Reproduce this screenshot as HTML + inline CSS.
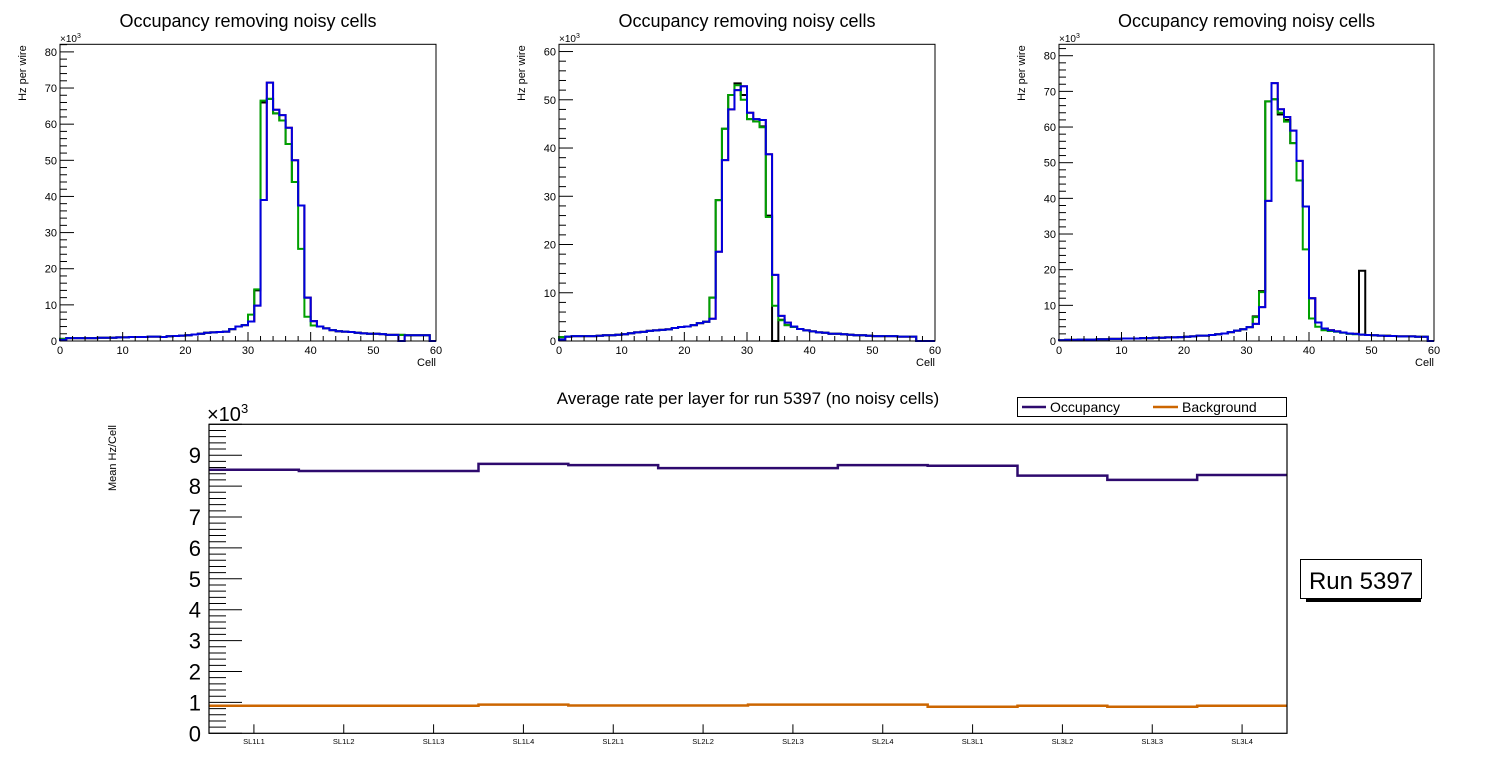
<!DOCTYPE html>
<html><head><meta charset="utf-8"><style>
html,body{margin:0;padding:0;background:#fff;}
svg{display:block;font-family:"Liberation Sans",sans-serif;}
</style></head><body>
<svg id="c" width="1496" height="772" viewBox="0 0 1496 772"></svg>
<script>
// ---- data: small histograms (Hz per wire, x10^3), 60 cells each ----
const p1Blue=[0.3,0.8,0.8,0.8,0.8,0.8,0.9,0.9,0.9,1.0,1.0,1.1,1.1,1.1,1.2,1.2,1.1,1.3,1.4,1.5,1.6,1.8,2.0,2.3,2.4,2.5,2.6,3.3,4.0,4.4,5.4,9.8,39,71.5,64,62.5,59,50,37.5,12,5.5,4.0,3.5,3.0,2.7,2.6,2.5,2.3,2.1,2.0,2.0,1.9,1.7,1.7,0,1.6,1.6,1.6,1.6,0];
const p1Green=[0.6,0.8,0.8,0.8,0.8,0.8,0.9,0.9,0.9,1.0,1.0,1.1,1.1,1.1,1.2,1.2,1.1,1.3,1.4,1.5,1.6,1.8,2.0,2.3,2.4,2.5,2.6,3.3,4.0,4.4,7.3,14.3,66.5,67,63,61,54.5,44,25.5,6.7,4.3,4.0,3.5,3.0,2.7,2.6,2.5,2.3,2.1,2.0,2.0,1.9,1.7,1.7,1.7,1.6,1.6,1.6,1.6,0];
const p1Black=[0.6,0.8,0.8,0.8,0.8,0.8,0.9,0.9,0.9,1.0,1.0,1.1,1.1,1.1,1.2,1.2,1.1,1.3,1.4,1.5,1.6,1.8,2.0,2.3,2.4,2.5,2.6,3.3,4.0,4.4,5.4,14,66,67,63,61,54.5,44,37.5,12,5.5,4.0,3.5,3.0,2.7,2.6,2.5,2.3,2.1,2.0,2.0,1.9,1.7,1.7,1.7,1.6,1.6,1.6,1.6,0];
const p2Blue=[0.3,0.9,1.0,1.0,1.0,1.0,1.1,1.2,1.2,1.3,1.4,1.6,1.8,1.9,2.1,2.2,2.3,2.4,2.7,2.9,3.0,3.3,3.7,4.0,4.6,18.5,37.5,48,52,52.8,47.3,46,45.8,38.7,13.7,5.2,3.8,3.0,2.5,2.2,2.0,1.8,1.7,1.5,1.5,1.4,1.3,1.2,1.2,1.1,1.0,1.0,1.0,1.0,0.9,0.9,0.9,0,0,0];
const p2Green=[0.8,0.9,1.0,1.0,1.0,1.0,1.1,1.2,1.2,1.3,1.4,1.6,1.8,1.9,2.1,2.2,2.3,2.4,2.7,2.9,3.0,3.3,3.7,4.0,9.0,29.2,44,51,53,50,46,45.5,44.3,25.7,7.3,4.3,3.3,2.9,2.5,2.2,2.0,1.8,1.7,1.5,1.5,1.4,1.3,1.2,1.2,1.1,1.0,1.0,1.0,1.0,0.9,0.9,0.9,0,0,0];
const p2Black=[0.8,0.9,1.0,1.0,1.0,1.0,1.1,1.2,1.2,1.3,1.4,1.6,1.8,1.9,2.1,2.2,2.3,2.4,2.7,2.9,3.0,3.3,3.7,4.0,9.0,29.2,44,51,53.4,51,46,45.5,44.5,26,0,4.4,3.3,2.9,2.5,2.2,2.0,1.8,1.7,1.5,1.5,1.4,1.3,1.2,1.2,1.1,1.0,1.0,1.0,1.0,0.9,0.9,0.9,0,0,0];
const p3Blue=[0.2,0.3,0.3,0.4,0.4,0.4,0.5,0.5,0.6,0.6,0.7,0.7,0.7,0.8,0.8,0.9,0.9,1.0,1.0,1.1,1.2,1.3,1.5,1.5,1.7,1.9,2.1,2.5,2.9,3.3,3.9,4.8,9.5,39.3,72.3,65,62.8,59,50.5,37.7,12,5.2,3.5,3.0,2.7,2.4,2.1,2.0,1.8,1.7,1.6,1.5,1.4,1.4,1.3,1.3,1.3,1.2,1.2,0];
const p3Green=[0.2,0.3,0.3,0.4,0.4,0.4,0.5,0.5,0.6,0.6,0.7,0.7,0.7,0.8,0.8,0.9,0.9,1.0,1.0,1.1,1.2,1.3,1.5,1.5,1.7,1.9,2.1,2.5,2.9,3.3,3.9,6.7,13.7,67.2,67.8,64,61.5,55.5,45,25.7,6.3,4.0,3.0,2.8,2.6,2.3,2.0,1.9,1.8,1.7,1.6,1.5,1.4,1.4,1.3,1.3,1.3,1.2,1.2,0];
const p3Black=[0.2,0.3,0.3,0.4,0.4,0.4,0.5,0.5,0.6,0.6,0.7,0.7,0.7,0.8,0.8,0.9,0.9,1.0,1.0,1.1,1.2,1.3,1.5,1.5,1.7,1.9,2.1,2.5,2.9,3.3,3.9,6.9,14,67.2,67.8,63.5,62,55.5,45,37.7,12,5.2,3.5,3.0,2.7,2.4,2.1,2.0,19.7,1.7,1.6,1.5,1.5,1.4,1.3,1.3,1.3,1.2,1.2,0];
// ---- data: bottom chart (Mean Hz/Cell, x10^3) ----
const layers=["SL1L1","SL1L2","SL1L3","SL1L4","SL2L1","SL2L2","SL2L3","SL2L4","SL3L1","SL3L2","SL3L3","SL3L4"];
const occupancy=[8.53,8.49,8.49,8.72,8.68,8.58,8.58,8.68,8.66,8.34,8.2,8.36];
const background=[0.89,0.89,0.89,0.93,0.90,0.90,0.93,0.93,0.86,0.89,0.86,0.89];
const smallTicksX=[0,10,20,30,40,50,60];

const NS="http://www.w3.org/2000/svg";
const svg=document.getElementById('c');
function mk(tag,attrs,parent,text){const e=document.createElementNS(NS,tag);for(const k in attrs)e.setAttribute(k,attrs[k]);if(text!==undefined)e.textContent=text;(parent||svg).appendChild(e);return e;}

function histPath(vals,sx,sy){let d='';for(let i=0;i<vals.length;i++){const x0=sx(i),x1=sx(i+1),y=sy(vals[i]);d+=(i===0?`M${x0},${sy(0)}L${x0},${y}`:`L${x0},${y}`)+`L${x1},${y}`;}d+=`L${sx(vals.length)},${sy(0)}`;return d;}
function stepPath(vals,sx,sy){let d='';for(let i=0;i<vals.length;i++){const y=sy(vals[i]);d+=(i===0?`M${sx(i)},${y}`:`L${sx(i)},${y}`)+`L${sx(i+1)},${y}`;}return d;}

const panels=[
 {x0:60,x1:436,ymax:82.1,series:[p1Black,p1Blue,p1Green,p1Blue],name:'panel-1'},
 {x0:559,x1:935,ymax:61.5,series:[p2Black,p2Blue,p2Green,p2Blue],name:'panel-2'},
 {x0:1059,x1:1434,ymax:83.2,series:[p3Black,p3Blue,p3Green,p3Blue],name:'panel-3'}];
const colors=['#000','#e00000','#00a000','#0000e0'];
const names=['series-black','series-red','series-green','series-blue'];
panels.forEach(p=>{
 const g=mk('g',{});
 
 
 const top=44.3,bot=341;
 const sx=i=>p.x0+(p.x1-p.x0)*i/60, sy=v=>bot-(bot-top)*v/p.ymax, sxv=v=>sx(v);
 const t=mk('text',{x:(p.x0+p.x1)/2,y:27,'text-anchor':'middle','font-size':18},g,'Occupancy removing noisy cells');
 
 p.series.forEach((s,k)=>{const pa=mk('path',{d:histPath(s,sx,sy),fill:'none',stroke:colors[k],'stroke-width':2},g);
  });
 const fr=mk('rect',{x:p.x0,y:top,width:p.x1-p.x0,height:bot-top,fill:'none',stroke:'#000','stroke-width':1},g);
 
 for(let v=0;v<=p.ymax;v+=2){const maj=v%10===0;mk('line',{x1:p.x0,x2:p.x0+(maj?14:7),y1:sy(v),y2:sy(v),stroke:'#000','stroke-width':1},g);
  if(maj){const tl=mk('text',{x:p.x0-3,y:sy(v)+4,'text-anchor':'end','font-size':11},g,v);}}
 for(let v=0;v<=60;v+=2){const maj=v%10===0;mk('line',{x1:sxv(v),x2:sxv(v),y1:bot,y2:bot-(maj?9:5),stroke:'#000','stroke-width':1},g);}
 smallTicksX.forEach(v=>{const tl=mk('text',{x:sxv(v),y:354,'text-anchor':'middle','font-size':11},g,v);});
 const xm=mk('text',{x:p.x0,y:42,'font-size':10},g,'×10');mk('tspan',{dy:-4,'font-size':7},xm,'3');
 
 const xt=mk('text',{x:p.x1,y:366,'text-anchor':'end','font-size':11},g,'Cell');
 const yt=mk('text',{x:0,y:0,transform:`translate(${p.x0-34},${top+1}) rotate(-90)`,'text-anchor':'end','font-size':11},g,'Hz per wire');
 
});

(function(){
 const g=mk('g',{});
 
 
 const L=209,R=1287,T=424.3,B=733.3,ymax=10;
 const sx=i=>L+(R-L)*i/layers.length, sy=v=>B-(B-T)*v/ymax;
 const t=mk('text',{x:748,y:404,'text-anchor':'middle','font-size':17},g,'Average rate per layer for run 5397 (no noisy cells)');
 
 const po=mk('path',{d:stepPath(occupancy,sx,sy),fill:'none',stroke:'#2e0a6e','stroke-width':2.5},g);
 
 const pb=mk('path',{d:stepPath(background,sx,sy),fill:'none',stroke:'#cc6600','stroke-width':2.5},g);
 
 const fr=mk('rect',{x:L,y:T,width:R-L,height:B-T,fill:'none',stroke:'#000','stroke-width':1.2},g);
 
 for(let k=0;k<=50;k++){const v=k/5;const maj=k%5===0;mk('line',{x1:L,x2:L+(maj?33:17),y1:sy(v),y2:sy(v),stroke:'#000','stroke-width':1},g);
  if(maj&&v<10){const tl=mk('text',{x:L-8,y:sy(v)+8,'text-anchor':'end','font-size':22},g,v);}}
 layers.forEach((n,i)=>{const cx=(sx(i)+sx(i+1))/2;mk('line',{x1:cx,x2:cx,y1:B,y2:B-9,stroke:'#000','stroke-width':1},g);
  const tl=mk('text',{x:cx,y:744,'text-anchor':'middle','font-size':7.5},g,n);});
 const xm=mk('text',{x:L-2,y:421,'font-size':20},g,'×10');mk('tspan',{dy:-8,'font-size':13},xm,'3');
 
 const yt=mk('text',{x:0,y:0,transform:'translate(116,425) rotate(-90)','text-anchor':'end','font-size':11},g,'Mean Hz/Cell');
 
 const lg=mk('g',{},g);
 mk('rect',{x:1017.5,y:397.5,width:269,height:19,fill:'#fff',stroke:'#000','stroke-width':1},lg);
 mk('line',{x1:1022,x2:1046,y1:407,y2:407,stroke:'#2e0a6e','stroke-width':2.5},lg);
 const e1=mk('text',{x:1050,y:412,'font-size':14},lg,'Occupancy');
 mk('line',{x1:1153,x2:1178,y1:407,y2:407,stroke:'#cc6600','stroke-width':2.5},lg);
 const e2=mk('text',{x:1182,y:412,'font-size':14},lg,'Background');
 const rb=mk('g',{},g);
 mk('rect',{x:1306,y:598,width:115,height:4,fill:'#000'},rb);
 mk('rect',{x:1300.5,y:559.5,width:121,height:39,fill:'#fff',stroke:'#000','stroke-width':1},rb);
 mk('text',{x:1361,y:589,'text-anchor':'middle','font-size':24},rb,'Run 5397');
})();
</script>
</body></html>
